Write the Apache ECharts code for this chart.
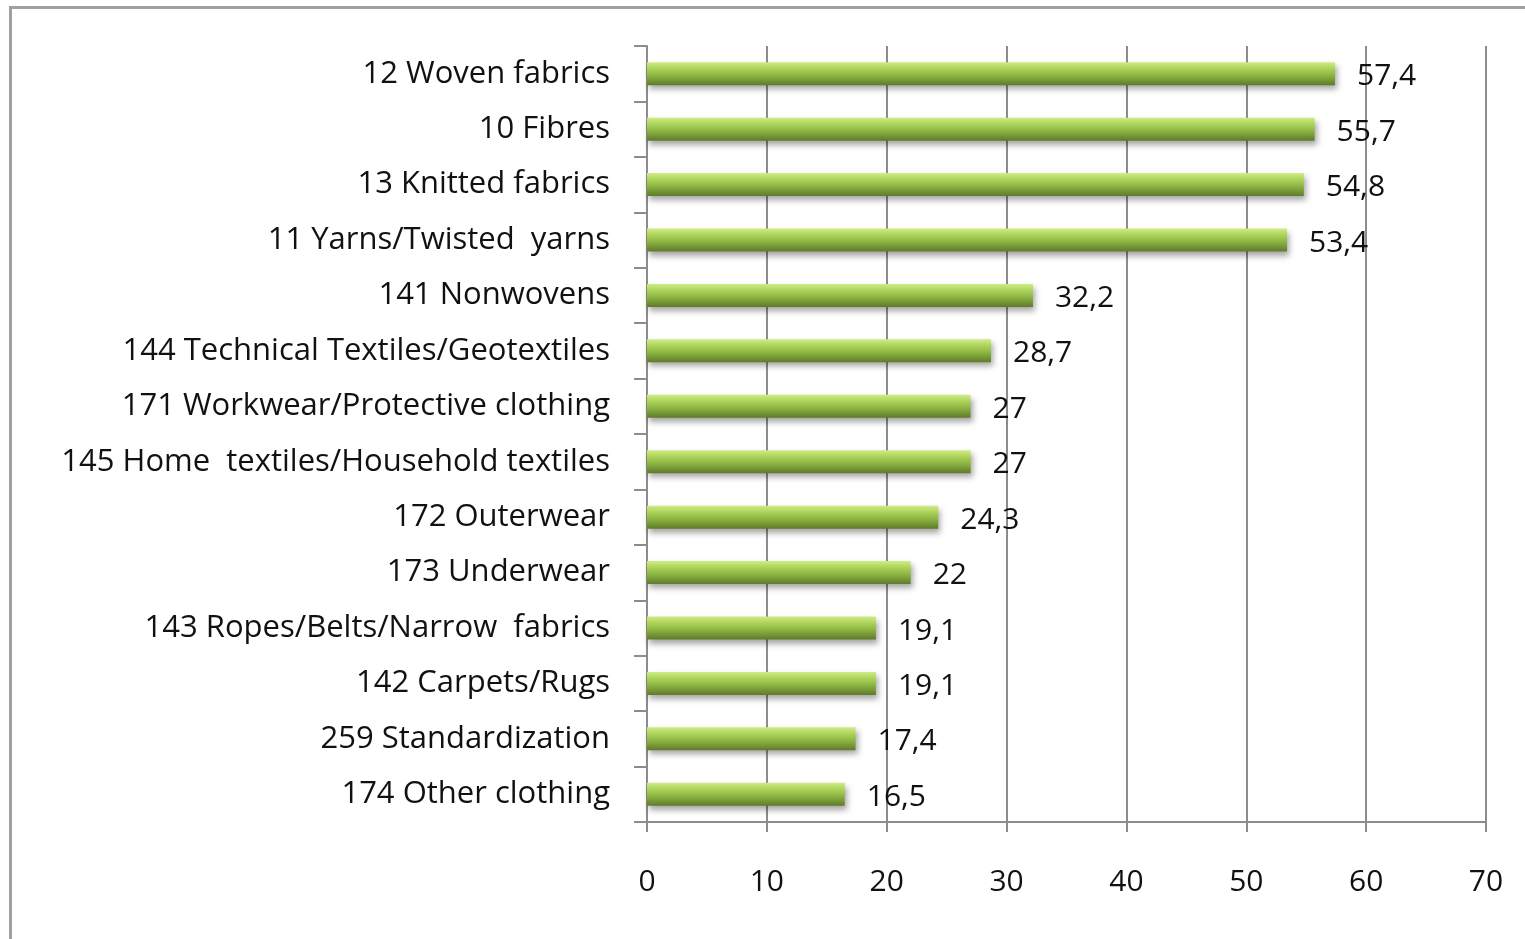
<!DOCTYPE html>
<html><head><meta charset="utf-8">
<script src="https://cdn.jsdelivr.net/npm/echarts@6/dist/echarts.min.js"></script>
<style>
html,body{margin:0;padding:0;background:#fff;overflow:hidden}
#frame{position:absolute;left:9px;top:6px;width:1600px;height:1000px;border-top:3px solid #a0a0a0;border-left:3px solid #a0a0a0;box-sizing:border-box}
#c{position:absolute;left:0;top:0;width:1525px;height:939px}
</style></head>
<body>
<div id="frame"></div>
<div id="c"></div>
<script>
const categories = [
  "12 Woven fabrics",
  "10 Fibres",
  "13 Knitted fabrics",
  "11 Yarns/Twisted  yarns",
  "141 Nonwovens",
  "144 Technical Textiles/Geotextiles",
  "171 Workwear/Protective clothing",
  "145 Home  textiles/Household textiles",
  "172 Outerwear",
  "173 Underwear",
  "143 Ropes/Belts/Narrow  fabrics",
  "142 Carpets/Rugs",
  "259 Standardization",
  "174 Other clothing"
];
const values = [57.4, 55.7, 54.8, 53.4, 32.2, 28.7, 27, 27, 24.3, 22, 19.1, 19.1, 17.4, 16.5];
const xTicks = [0, 10, 20, 30, 40, 50, 60, 70];

const chart = echarts.init(document.getElementById('c'), null, {renderer: 'canvas'});
const font = '"Open Sans", sans-serif';
chart.setOption({
  animation: false,
  backgroundColor: 'transparent',
  grid: {left: 647, right: 39, top: 46, bottom: 117, containLabel: false},
  xAxis: {
    type: 'value', min: xTicks[0], max: xTicks[xTicks.length - 1], interval: 10,
    axisLine: {show: true, lineStyle: {color: '#8c8c8c', width: 2}},
    axisTick: {show: true, length: 10, lineStyle: {color: '#8c8c8c', width: 2}},
    splitLine: {show: true, lineStyle: {color: '#8c8c8c', width: 2}},
    axisLabel: {margin: 45, fontSize: 30, color: '#111', fontFamily: font,
      formatter: v => String(v)}
  },
  yAxis: {
    type: 'category', data: categories, inverse: true,
    axisLine: {show: true, lineStyle: {color: '#8c8c8c', width: 2}},
    axisTick: {show: true, length: 13, inside: false, lineStyle: {color: '#8c8c8c', width: 2}},
    axisLabel: {margin: 37, fontSize: 31, color: '#111', fontFamily: font, padding: [5, 0, 0, 0]}
  },
  series: [{
    type: 'bar', data: values, barWidth: 23,
    itemStyle: {
      color: new echarts.graphic.LinearGradient(0, 0, 0, 1, [
        {offset: 0, color: '#d0ec86'},
        {offset: 0.25, color: '#b0d65e'},
        {offset: 0.55, color: '#8fb843'},
        {offset: 1, color: '#607a2a'}
      ]),
      shadowColor: 'rgba(0,0,0,0.35)', shadowBlur: 6, shadowOffsetX: 2, shadowOffsetY: 4
    },
    label: {
      show: true, position: 'right', distance: 22, fontSize: 30, color: '#111', fontFamily: font,
      offset: [0, 3],
      formatter: p => String(p.value).replace('.', ',')
    }
  }]
});
</script>
</body></html>
